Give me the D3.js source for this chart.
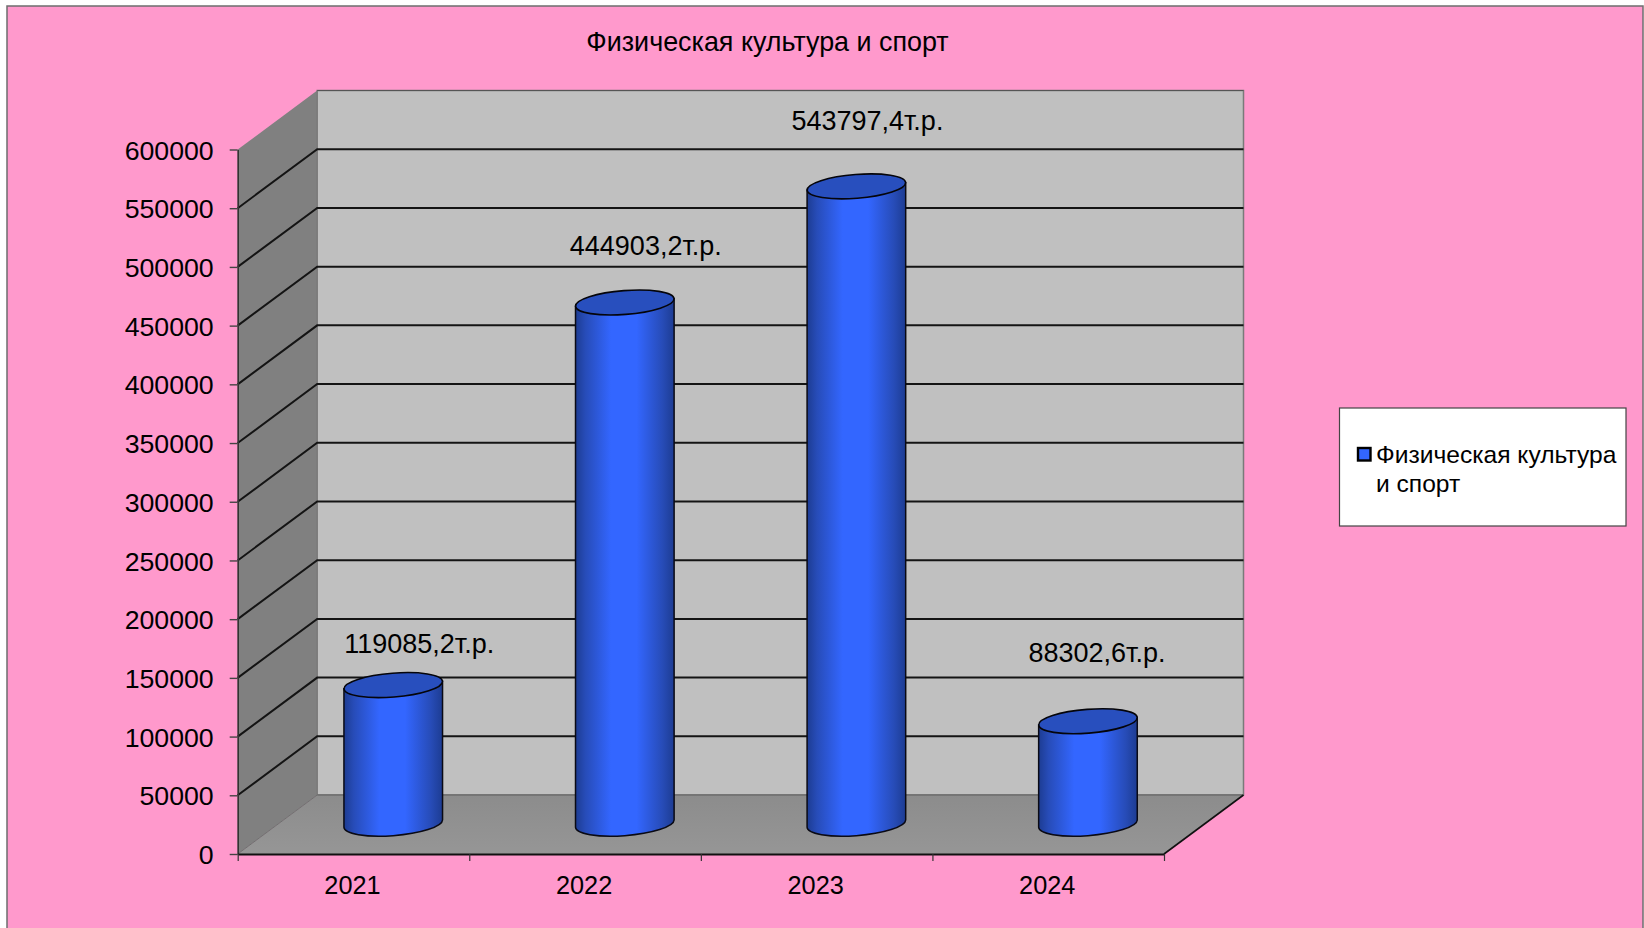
<!DOCTYPE html>
<html><head><meta charset="utf-8">
<style>html,body{margin:0;padding:0;background:#fff;overflow:hidden}svg{display:block}text{font-family:"Liberation Sans",Arial,sans-serif;fill:#000}</style>
<script src="https://cdn.jsdelivr.net/npm/d3@7/dist/d3.min.js"></script>
</head><body><svg id="c" width="1644" height="928"></svg>
<script>
const titleText = "Физическая культура и спорт";
const years = ["2021","2022","2023","2024"];
const values = [119085.2,444903.2,543797.4,88302.6];
const valueLabels = ["119085,2т.р.","444903,2т.р.","543797,4т.р.","88302,6т.р."];
const yTicks = d3.range(0,600001,50000);
const legendLines = ["Физическая культура","и спорт"];
const labelDx = [26,21,11,9], labelDy = [-41.5,-57.5,-66.5,-68.5];

const svg = d3.select("#c");
const L=237.7,R=1164,B=854,T=149.5,DX=79.5,DY=-59;
const x = d3.scaleBand().domain(years).range([L,R]);
const xEdge = d3.scaleLinear().domain([0,4]).range([L,R]);
const y = d3.scaleLinear().domain([0,600000]).range([B,T]);

const defs = svg.append("defs");
const g = defs.append("linearGradient").attr("id","cyl");
[[0,"#1d3c92"],[0.1,"#274cb8"],[0.36,"#3366ff"],[0.62,"#3366ff"],[0.88,"#274cb8"],[1,"#1d3c92"]]
 .forEach(([o,c])=>g.append("stop").attr("offset",o).attr("stop-color",c));
const fg = defs.append("linearGradient").attr("id","floor").attr("x1",0).attr("y1",0).attr("x2",0).attr("y2",1);
fg.append("stop").attr("offset",0).attr("stop-color","#8c8c8c");
fg.append("stop").attr("offset",1).attr("stop-color","#969696");

svg.append("rect").attr("x",7).attr("y",6).attr("width",1636).attr("height",930)
  .attr("fill","#ff99cc").attr("stroke","#6e6e6e").attr("stroke-width",1.5);

const poly = pts => "M"+pts.map(p=>p.join(",")).join("L")+"Z";
svg.append("path").attr("d",poly([[L,y(600000)],[L+DX,y(600000)+DY],[L+DX,B+DY],[L,B]])).attr("fill","#808080");
svg.append("rect").attr("x",L+DX).attr("y",y(600000)+DY).attr("width",R-L).attr("height",B-T)
  .attr("fill","#c0c0c0").attr("stroke","#7a7a7a").attr("stroke-width",1.5);
svg.append("path").attr("d",poly([[L,B],[L+DX,B+DY],[R+DX,B+DY],[R,B]])).attr("fill","url(#floor)");
svg.append("line").attr("x1",L+DX).attr("x2",R+DX).attr("y1",B+DY).attr("y2",B+DY).attr("stroke","#6e6e6e").attr("stroke-width",1.5);
svg.append("line").attr("x1",L).attr("x2",L+DX).attr("y1",B).attr("y2",B+DY).attr("stroke","#707070").attr("stroke-width",1);
svg.append("line").attr("x1",R).attr("x2",R+DX).attr("y1",B).attr("y2",B+DY).attr("stroke","#111").attr("stroke-width",1.6);
const gl = yTicks.filter(v=>v>0 && v<600000);
const gr = svg.append("g").attr("stroke","#141414").attr("stroke-width",2).attr("fill","none");
gr.selectAll("path").data(gl).join("path")
  .attr("d",v=>`M${L},${y(v)}L${L+DX},${y(v)+DY}H${R+DX}`);
svg.append("line").attr("x1",L+DX).attr("x2",R+DX).attr("y1",y(600000)+DY).attr("y2",y(600000)+DY).attr("stroke","#555").attr("stroke-width",1.2);

const yAxis = svg.append("g").attr("transform",`translate(${L},0)`)
  .call(d3.axisLeft(y).tickValues(yTicks).tickFormat(d3.format("d")).tickSize(8).tickSizeOuter(0).tickPadding(16));
yAxis.selectAll("text").attr("font-size",26.7).attr("dy","0.36em").style("font-family",'"Liberation Sans"');
yAxis.selectAll("line").attr("stroke","#444").attr("stroke-width",1.4);
yAxis.select(".domain").attr("stroke","#333").attr("stroke-width",1.6);

const xTickAxis = svg.append("g").attr("transform",`translate(0,${B})`)
  .call(d3.axisBottom(xEdge).tickValues(d3.range(0,5)).tickFormat("").tickSize(7).tickSizeOuter(0));
xTickAxis.selectAll("line").attr("stroke","#333").attr("stroke-width",1.2);
xTickAxis.select(".domain").attr("stroke","#111").attr("stroke-width",2);

const xAxis = svg.append("g").attr("transform",`translate(0,${B})`)
  .call(d3.axisBottom(x).tickSize(0).tickPadding(22));
xAxis.select(".domain").remove();
xAxis.selectAll("text").attr("font-size",25.3).attr("dy","0.71em").attr("dx",-1).style("font-family",'"Liberation Sans"');

const RX=49.4,RY=11.9,ROT=-4.5,EXT=49.3,TILT=3.65;
const cx = d=>x(d)+x.bandwidth()/2+DX/2;
const cyTop = v=>y(v)+DY/2+0.4;
const cyBase = cyTop(0)-1.2;
const bars = svg.append("g").selectAll("g").data(years.map((d,i)=>({d,v:values[i],i}))).join("g");
bars.append("path").attr("fill","url(#cyl)").attr("stroke","#0a0a14").attr("stroke-width",1.5)
  .attr("d",o=>{const X=cx(o.d),Y0=cyBase,Y1=cyTop(o.v);
    return `M${X-EXT},${Y1+TILT}L${X-EXT},${Y0+TILT}A${RX},${RY} ${ROT} 0 0 ${X+EXT},${Y0-TILT}L${X+EXT},${Y1-TILT}Z`;});
bars.append("ellipse").attr("rx",RX).attr("ry",RY).attr("fill","#284fbe").attr("stroke","#05050a").attr("stroke-width",1.6)
  .attr("transform",o=>`translate(${cx(o.d)},${cyTop(o.v)}) rotate(${ROT})`);
bars.append("text").attr("font-size",27).attr("text-anchor","middle").attr("dy","0.36em")
  .attr("x",o=>cx(o.d)+labelDx[o.i]).attr("y",o=>cyTop(o.v)+labelDy[o.i]).text(o=>valueLabels[o.i]);

svg.append("text").attr("x",767.5).attr("y",51).attr("text-anchor","middle").attr("font-size",26.9).text(titleText);

svg.append("rect").attr("x",1339.5).attr("y",408).attr("width",286.5).attr("height",118)
  .attr("fill","#fff").attr("stroke","#444").attr("stroke-width",1.2);
svg.append("rect").attr("x",1358).attr("y",448).attr("width",12.5).attr("height",12.5)
  .attr("fill","#3366ff").attr("stroke","#000").attr("stroke-width",2.4);
svg.append("g").selectAll("text").data(legendLines).join("text")
  .attr("x",1376).attr("y",(d,i)=>463+i*28.5).attr("font-size",24.6).text(d=>d);
</script></body></html>
